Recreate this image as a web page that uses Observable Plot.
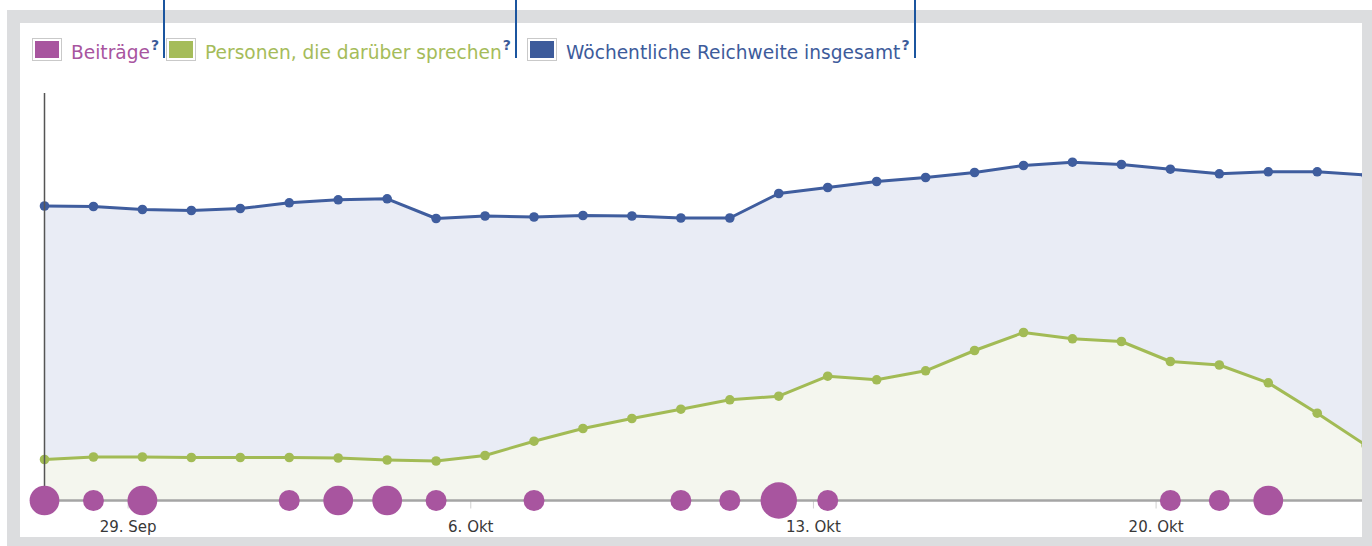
<!DOCTYPE html>
<html><head><meta charset="utf-8">
<script src="https://cdn.jsdelivr.net/npm/d3@7"></script>
<script src="https://cdn.jsdelivr.net/npm/@observablehq/plot@0.6"></script>
<style>
html,body{margin:0;padding:0;background:#fff;overflow:hidden;width:1372px;height:546px;position:relative;}
#frame{position:absolute;left:7px;top:10px;width:1342px;height:514px;border:13px solid #dcdddf;background:#fff;}
#chart{position:absolute;left:20px;top:80px;width:1342px;height:457px;overflow:hidden;}
#chart svg{overflow:hidden;}
.item{position:absolute;top:37px;height:24px;display:flex;align-items:center;font-family:"DejaVu Sans",sans-serif;font-size:18.6px;white-space:nowrap;}
.sw{width:24px;height:17px;border:1px solid #c9c9c9;padding:2px;background-clip:content-box;box-sizing:content-box;flex:none;}
.lbl{margin-left:9px;position:relative;top:3px;}
.q{font-size:14px;font-weight:bold;color:#3b5a99;position:relative;top:-4px;margin-left:1px;}
.item::after{content:"";position:absolute;left:calc(100% + 4px);top:-37px;height:58px;width:2px;background:#1b559f;}
</style>
</head><body>
<div id="frame"></div>
<div id="chart"></div>
<div id="legend"></div>
<script>
// ---- data ----
const dates = ["2013-09-27","2013-09-28","2013-09-29","2013-09-30","2013-10-01","2013-10-02","2013-10-03",
  "2013-10-04","2013-10-05","2013-10-06","2013-10-07","2013-10-08","2013-10-09","2013-10-10",
  "2013-10-11","2013-10-12","2013-10-13","2013-10-14","2013-10-15","2013-10-16","2013-10-17",
  "2013-10-18","2013-10-19","2013-10-20","2013-10-21","2013-10-22","2013-10-23","2013-10-24"];
const reach = [2945,2940,2910,2900,2920,2977,3007,3017,2820,2845,2835,2850,2845,2825,
  2825,3070,3130,3190,3230,3280,3350,3383,3360,3313,3267,3287,3287,3255];
const talking = [410,435,435,430,430,430,425,405,395,450,593,720,820,913,
  1007,1043,1243,1207,1297,1500,1680,1617,1590,1390,1355,1177,873,550];
const posts = [2,1,2,0,0,1,2,2,1,0,1,0,0,1,1,3,1,0,0,0,0,0,0,1,1,2,0,0];
const tickDates = ["2013-09-29","2013-10-06","2013-10-13","2013-10-20"];
const tickLabels = ["29. Sep","6. Okt","13. Okt","20. Okt"];
const seriesNames = ["Beiträge","Personen, die darüber sprechen","Wöchentliche Reichweite insgesamt"];
const seriesColors = ["#a8559f","#a5bc5a","#3d5b9b"];
const legendLefts = [32,166,527];

// ---- legend ----
const legend = document.getElementById("legend");
seriesNames.forEach((name,i)=>{
  const it = document.createElement("div");
  it.className="item"; it.style.left = legendLefts[i]+"px";
  it.innerHTML = `<span class="sw" style="background-color:${seriesColors[i]}"></span><span class="lbl" style="color:${seriesColors[i]}">${name}</span><span class="q">?</span>`;
  legend.appendChild(it);
});

// ---- chart ----
const purple = "#a8559f", green = "#a2bb55", blue = "#3f5d9e";
const toTime = d => new Date(d + "T07:00:00Z");
const data = dates.map((d,i)=>({date: toTime(d), reach: reach[i], talking: talking[i], posts: posts[i]}));
const x0 = data[0].date;
const x1 = new Date(+x0 + 26.925 * 864e5);
const yMax = 4070;
const fmt = d3.utcFormat("%Y-%m-%d");
const tickTimes = tickDates.map(d => new Date(d + "T00:00:00Z"));

const plot = Plot.plot({
  width: 1342, height: 457,
  marginLeft: 24, marginRight: 0, marginTop: 13, marginBottom: 37,
  style: {background: "transparent", overflow: "hidden", fontFamily: "DejaVu Sans, sans-serif"},
  x: {type: "utc", domain: [x0, x1]},
  y: {domain: [0, yMax], axis: null},
  r: {type: "sqrt", domain: [0, 3], range: [0, 18.2]},
  marks: [
    Plot.areaY(data, {x: "date", y: "reach", fill: "#e9ecf5"}),
    Plot.areaY(data, {x: "date", y: "talking", fill: "#f4f6ee"}),
    Plot.lineY(data, {x: "date", y: "reach", stroke: blue, strokeWidth: 3}),
    Plot.dot(data, {x: "date", y: "reach", r: 4.8, fill: blue}),
    Plot.lineY(data, {x: "date", y: "talking", stroke: green, strokeWidth: 3}),
    Plot.dot(data, {x: "date", y: "talking", r: 4.8, fill: green}),
    Plot.ruleX([x0], {y1: 0, y2: yMax, stroke: "#555", strokeWidth: 1.5}),
    Plot.ruleX(tickTimes, {y1: 0, y2: -85, stroke: "#cfcfcf", strokeWidth: 1}),
    Plot.ruleY([0], {stroke: "#a5a5a5", strokeWidth: 2.5}),
    Plot.axisX(tickTimes, {
      anchor: "bottom", tickSize: 0, tickPadding: 21, fill: "#383838", fontSize: 15,
      tickFormat: d => tickLabels[tickDates.indexOf(fmt(d))]
    }),
    Plot.dot(data.filter(d => d.posts > 0), {x: "date", y: () => 0, r: "posts", fill: purple})
  ]
});
document.getElementById("chart").appendChild(plot);
</script>
</body></html>
